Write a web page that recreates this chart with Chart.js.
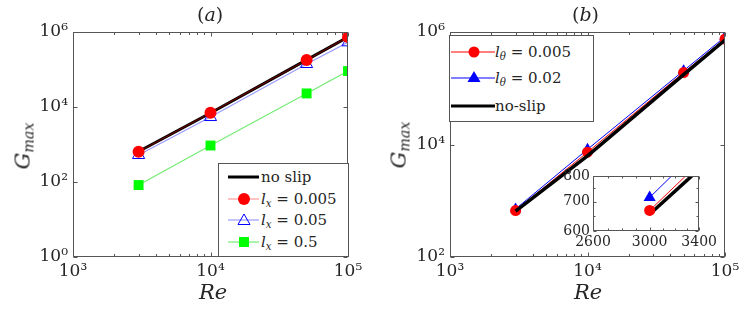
<!DOCTYPE html>
<html><head><meta charset="utf-8">
<script src="https://cdn.jsdelivr.net/npm/chart.js@4/dist/chart.umd.min.js"></script>
<style>
html,body{margin:0;padding:0;background:#fff;}
#wrap{position:relative;width:747px;height:322px;overflow:hidden;font-family:"DejaVu Serif","Liberation Serif",serif;color:#262626;background:#fff;}
canvas{position:absolute;}
.t{position:absolute;white-space:nowrap;line-height:1;}
.leg{position:absolute;background:#fff;border:1px solid #555;box-sizing:border-box;}
.row{position:absolute;left:0;height:20px;white-space:nowrap;font-size:15px;line-height:20px;}
.row svg{position:absolute;top:0;}
.row span{position:absolute;top:0;}
sub{font-size:68%;vertical-align:-0.28em;line-height:0;}
</style></head>
<body>
<div id="wrap">
  <canvas id="ca" width="370" height="322" style="left:0;top:0"></canvas>
  <canvas id="cb" width="370" height="322" style="left:377px;top:0"></canvas>
  <canvas id="ci" width="170" height="100" style="left:550px;top:160px"></canvas>

  <div class="t" style="left:197px;top:5px;font-size:19px;">(<i>a</i>)</div>
  <div class="t" style="left:572px;top:5px;font-size:19px;">(<i>b</i>)</div>
  <div class="t" style="left:199px;top:282px;font-size:21px;"><i>Re</i></div>
  <div class="t" style="left:574px;top:282px;font-size:21px;"><i>Re</i></div>
  <div class="t" style="left:23px;top:146px;font-size:21px;transform:translate(-50%,-50%) rotate(-90deg);"><i>G</i><sub><i>max</i></sub></div>
  <div class="t" style="left:399px;top:145px;font-size:21px;transform:translate(-50%,-50%) rotate(-90deg);"><i>G</i><sub><i>max</i></sub></div>

  <div class="leg" style="left:218px;top:163px;width:131px;height:94px;">
    <div class="row" style="top:3px;"><svg width="40" height="20" style="left:8px"><line x1="1" y1="10" x2="32" y2="10" stroke="#000" stroke-width="3"/></svg><span style="left:42px">no slip</span></div>
    <div class="row" style="top:25px;"><svg width="40" height="20" style="left:8px"><line x1="1" y1="10" x2="32" y2="10" stroke="rgba(255,0,0,0.4)" stroke-width="1.2"/><circle cx="17" cy="10" r="6" fill="#ff0000"/></svg><span style="left:42px"><i>l</i><sub><i>x</i></sub> = 0.005</span></div>
    <div class="row" style="top:46px;"><svg width="40" height="20" style="left:8px"><line x1="1" y1="10" x2="32" y2="10" stroke="rgba(0,0,255,0.4)" stroke-width="1.2"/><polygon points="17,4 23,14.5 11,14.5" fill="none" stroke="#0000ff" stroke-width="1"/></svg><span style="left:42px"><i>l</i><sub><i>x</i></sub> = 0.05</span></div>
    <div class="row" style="top:68px;"><svg width="40" height="20" style="left:8px"><line x1="1" y1="10" x2="32" y2="10" stroke="rgba(0,220,0,0.55)" stroke-width="1.2"/><rect x="12" y="5" width="10" height="10" fill="#00ff00"/></svg><span style="left:42px"><i>l</i><sub><i>x</i></sub> = 0.5</span></div>
  </div>

  <div class="leg" style="left:449px;top:35px;width:145px;height:87px;">
    <div class="row" style="top:6px;"><svg width="46" height="20" style="left:1px"><line x1="0" y1="10" x2="44" y2="10" stroke="#ff0000" stroke-width="1"/><circle cx="23" cy="10" r="5.5" fill="#ff0000"/></svg><span style="left:45px"><i>l</i><sub><i>θ</i></sub> = 0.005</span></div>
    <div class="row" style="top:32px;"><svg width="46" height="20" style="left:1px"><line x1="0" y1="10" x2="44" y2="10" stroke="#0000ff" stroke-width="1"/><polygon points="23,3 29.5,14 16.5,14" fill="#0000ff"/></svg><span style="left:45px"><i>l</i><sub><i>θ</i></sub> = 0.02</span></div>
    <div class="row" style="top:60px;"><svg width="46" height="20" style="left:1px"><line x1="0" y1="10" x2="44" y2="10" stroke="#000" stroke-width="3"/></svg><span style="left:45px">no-slip</span></div>
  </div>
</div>
<script>
// ---------------- data ----------------
const reValues   = [3000, 10000, 50000, 100000];
// panel (a)
const gNoSlipA   = [650, 6900, 1.8e5, 7.3e5];
const gLx0005    = [640, 7000, 1.8e5, 7.3e5];
const gLx005     = [525, 5400, 1.4e5, 5.3e5];
const gLx05      = [83, 940, 2.3e4, 9.1e4];
// panel (b)
const gLt0005    = [668, 7300, 1.9e5, 7.5e5];
const gLt002     = [715, 8200, 2.05e5, 8.2e5];
const gNoSlipB   = [655, 6300, 1.75e5, 7.2e5];
// ticks
const xTicksMain   = [1e3, 1e4, 1e5];
const xMinorMain   = [2e3,3e3,4e3,5e3,6e3,7e3,8e3,9e3,2e4,3e4,4e4,5e4,6e4,7e4,8e4,9e4];
const yTicksA      = [1, 1e2, 1e4, 1e6];
const yTicksB      = [1e2, 1e4, 1e6];
const xTicksInset  = [2600, 3000, 3400];
const xMinorInset  = [2700, 2800, 2900, 3100, 3200, 3300];
const yTicksInset  = [600, 700, 800];
const yMinorInset  = [650, 750];

// ---------------- helpers ----------------
const SUP = {'0':'⁰','1':'¹','2':'²','3':'³','4':'⁴','5':'⁵','6':'⁶','7':'⁷','8':'⁸','9':'⁹','-':'⁻'};
function powLabel(v){ const e = Math.round(Math.log10(v)); return '10' + String(e).split('').map(c=>SUP[c]).join(''); }
const pts = (ys) => reValues.map((x,i)=>({x:x, y:ys[i]}));
const FONT = '"DejaVu Serif", "Liberation Serif", serif';
const TXT = '#262626';

function framePlugin(cfg){
  return {
    id:'frame',
    beforeDraw(chart){
      if(cfg.fill){ const a = chart.chartArea; const c = chart.ctx; c.save(); c.fillStyle='#fff'; c.fillRect(a.left,a.top,a.right-a.left,a.bottom-a.top); c.restore(); }
    },
    afterDraw(chart){
      const c = chart.ctx, a = chart.chartArea, xs = chart.scales.x, ys = chart.scales.y;
      const L = Math.round(a.left)+0.5, R = Math.round(a.right)-0.5, T = Math.round(a.top)+0.5, B = Math.round(a.bottom)-0.5;
      c.save();
      c.strokeStyle = '#555'; c.lineWidth = 1;
      c.strokeRect(L, T, R-L, B-T);
      c.beginPath();
      const xt = (vals, len) => vals.forEach(v=>{ const p = Math.round(xs.getPixelForValue(v))+0.5; c.moveTo(p,B); c.lineTo(p,B-len); c.moveTo(p,T); c.lineTo(p,T+len); });
      const yt = (vals, len) => vals.forEach(v=>{ const p = Math.round(ys.getPixelForValue(v))+0.5; c.moveTo(L,p); c.lineTo(L+len,p); c.moveTo(R,p); c.lineTo(R-len,p); });
      xt(cfg.xMaj, cfg.maj); xt(cfg.xMin, cfg.min);
      yt(cfg.yMaj, cfg.maj); yt(cfg.yMin || [], cfg.min);
      c.stroke();
      c.restore();
    }
  };
}

function mainScales(yTicks, yMin, yMax){
  return {
    x: { type:'logarithmic', min:1e3, max:1e5,
         afterBuildTicks: s => { s.ticks = xTicksMain.map(v=>({value:v})); },
         afterFit: s => { s.height = 40; },
         ticks:{ callback:(v)=>powLabel(v), font:{family:FONT, size:17}, color:TXT, padding:4, maxRotation:0, autoSkip:false },
         grid:{ display:false, drawTicks:false }, border:{ display:false } },
    y: { type:'logarithmic', min:yMin, max:yMax,
         afterBuildTicks: s => { s.ticks = yTicks.map(v=>({value:v})); },
         afterFit: s => { s.width = 60; },
         ticks:{ callback:(v)=>powLabel(v), font:{family:FONT, size:17}, color:TXT, padding:5, autoSkip:false },
         grid:{ display:false, drawTicks:false }, border:{ display:false } }
  };
}
const baseOpts = {
  responsive:false, maintainAspectRatio:false, animation:false, devicePixelRatio:1,
  layout:{ padding:{ left:13, right:22, top:32, bottom:25 } },
  plugins:{ legend:{display:false}, tooltip:{enabled:false}, title:{display:false} }
};

// ---------------- panel (a) ----------------
new Chart(document.getElementById('ca'), {
  type:'scatter',
  data:{ datasets:[
    { label:'no slip', data:pts(gNoSlipA), showLine:true, borderColor:'#000', borderWidth:3, pointRadius:0 },
    { label:'l_x = 0.005', data:pts(gLx0005), showLine:true, borderColor:'rgba(255,0,0,0.4)', borderWidth:1.2, pointStyle:'circle', pointRadius:6, pointBackgroundColor:'#ff0000', pointBorderColor:'#ff0000', pointBorderWidth:0, order:-1 },
    { label:'l_x = 0.05', data:pts(gLx005), showLine:true, borderColor:'rgba(0,0,255,0.4)', borderWidth:1.2, pointStyle:'triangle', pointRadius:7, pointBackgroundColor:'rgba(0,0,0,0)', pointBorderColor:'#0000ff', pointBorderWidth:1 },
    { label:'l_x = 0.5', data:pts(gLx05), showLine:true, borderColor:'rgba(0,220,0,0.55)', borderWidth:1.2, pointStyle:'rect', pointRadius:7, pointBackgroundColor:'#00ff00', pointBorderColor:'#00ff00', pointBorderWidth:0 }
  ]},
  options:Object.assign({}, baseOpts, { scales: mainScales(yTicksA, 1, 1e6) }),
  plugins:[ framePlugin({ xMaj:xTicksMain, xMin:xMinorMain, yMaj:yTicksA, maj:4, min:2.5 }) ]
});

// ---------------- panel (b) ----------------
new Chart(document.getElementById('cb'), {
  type:'scatter',
  data:{ datasets:[
    { label:'no-slip', data:pts(gNoSlipB), showLine:true, borderColor:'#000', borderWidth:3.5, pointRadius:0 },
    { label:'l_θ = 0.005', data:pts(gLt0005), showLine:true, borderColor:'#ff0000', borderWidth:1, pointStyle:'circle', pointRadius:5.5, pointBackgroundColor:'#ff0000', pointBorderColor:'#ff0000', pointBorderWidth:0 },
    { label:'l_θ = 0.02', data:pts(gLt002), showLine:true, borderColor:'#0000ff', borderWidth:1, pointStyle:'triangle', pointRadius:6.5, pointBackgroundColor:'#0000ff', pointBorderColor:'#0000ff', pointBorderWidth:0 }
  ]},
  options:Object.assign({}, baseOpts, { scales: mainScales(yTicksB, 1e2, 1e6) }),
  plugins:[ framePlugin({ xMaj:xTicksMain, xMin:xMinorMain, yMaj:yTicksB, maj:4, min:2.5 }) ]
});

// ---------------- inset (red drawn on top of the black line) ----------------
new Chart(document.getElementById('ci'), {
  type:'scatter',
  data:{ datasets:[
    { label:'l_θ = 0.005', data:pts(gLt0005), showLine:true, borderColor:'#ff0000', borderWidth:1, pointStyle:'circle', pointRadius:5.5, pointBackgroundColor:'#ff0000', pointBorderColor:'#ff0000', pointBorderWidth:0 },
    { label:'l_θ = 0.02', data:pts(gLt002), showLine:true, borderColor:'#0000ff', borderWidth:1, pointStyle:'triangle', pointRadius:7, pointBackgroundColor:'#0000ff', pointBorderColor:'#0000ff', pointBorderWidth:0 },
    { label:'no-slip', data:pts(gNoSlipB), showLine:true, borderColor:'#000', borderWidth:3.5, pointRadius:0 }
  ]},
  options:{
    responsive:false, maintainAspectRatio:false, animation:false, devicePixelRatio:1,
    layout:{ padding:{ left:3, right:14, top:16, bottom:4 } },
    plugins:{ legend:{display:false}, tooltip:{enabled:false} },
    scales:{
      x:{ type:'logarithmic', min:2600, max:3400,
          afterBuildTicks: s => { s.ticks = xTicksInset.map(v=>({value:v})); },
          afterFit: s => { s.height = 25; },
          ticks:{ callback:(v)=>String(v), font:{family:FONT, size:14}, color:TXT, padding:3, maxRotation:0, autoSkip:false },
          grid:{ display:false, drawTicks:false }, border:{display:false} },
      y:{ type:'logarithmic', min:600, max:800,
          afterBuildTicks: s => { s.ticks = yTicksInset.map(v=>({value:v})); },
          afterFit: s => { s.width = 40; },
          ticks:{ callback:(v)=>String(v), font:{family:FONT, size:14}, color:TXT, padding:3, autoSkip:false },
          grid:{ display:false, drawTicks:false }, border:{display:false} }
    }
  },
  plugins:[ framePlugin({ fill:true, xMaj:xTicksInset, xMin:xMinorInset, yMaj:yTicksInset, yMin:yMinorInset, maj:3, min:2 }) ]
});
</script>
</body></html>
